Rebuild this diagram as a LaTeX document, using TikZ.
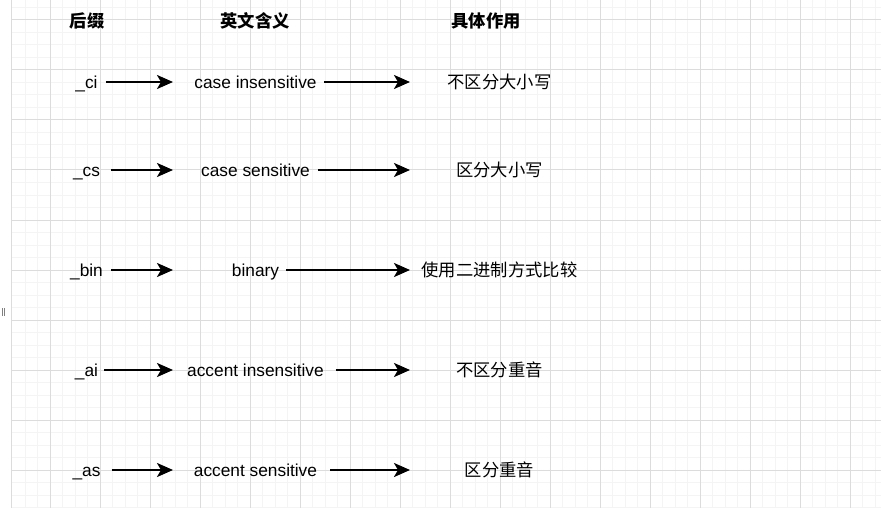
\documentclass[tikz,border=0pt]{standalone}
\usepackage{fontspec}
\setmainfont{Liberation Sans}
\newfontfamily\cjk{Noto Sans CJK SC}
\usetikzlibrary{arrows.meta}
\definecolor{gridmajor}{HTML}{DCDCDC}
\definecolor{gridminor}{HTML}{F4F4F4}

\begin{document}
\begin{tikzpicture}
  [x=1pt, y=-1pt,
   label/.style={inner sep=0, text height=13pt, text depth=0pt, font=\fontsize{17.3}{20}\selectfont},
   head/.style={label, font=\fontsize{17.3}{20}\selectfont\cjk\bfseries},
   meaning/.style={label, font=\fontsize{17.3}{20}\selectfont\cjk},
   link/.style={line width=2.2pt, -{Stealth[length=16pt, width=14pt, inset=4pt]}},
   minor/.style={gridminor, line width=1pt},
   major/.style={gridmajor, line width=1pt}]

  \useasboundingbox (0,0) rectangle (881,508);
  \fill[white] (0,0) rectangle (881,508);

  % grid
  \foreach \x in {25,37.5,...,875} \draw[minor] (\x,0) -- (\x,508);
  \foreach \y in {7.5,20,...,507.5} \draw[minor] (11,\y) -- (881,\y);
  \foreach \x in {50,100,...,850} \draw[major] (\x,0) -- (\x,508);
  \foreach \y in {20,70,...,470} \draw[major] (11,\y) -- (881,\y);
  \draw[major] (11,0) -- (11,508);
  \draw[gray, line width=0.8pt] (2,308) -- (2,316) (4.5,308) -- (4.5,316);

  \node[head] (hs) at (87,21) {后缀};
  \node[head] (he) at (255,21) {英文含义};
  \node[head] (hm) at (486,21) {具体作用};

  \foreach \i/\y/\suf/\eng/\zh/\ga/\gb in
    {1/82/\_ci/case insensitive/不区分大小写/8/7,
     2/170/\_cs/case sensitive/区分大小写/11/8,
     3/270/\_bin/binary/使用二进制方式比较/8/7,
     4/370/\_ai/accent insensitive/不区分重音/6/12,
     5/470/\_as/accent sensitive/区分重音/11/13} {
    \node[label] (s\i) at (86.5,\y) {\suf};
    \node[label] (e\i) at (255.5,\y) {\eng};
    \node[meaning] (m\i) at (499.5,\y) {\zh};
    \coordinate (p\i) at (173,\y);
    \coordinate (q\i) at (410,\y);
    \draw[link, shorten <=\ga pt] (s\i) -- (p\i);
    \draw[link, shorten <=\gb pt] (e\i) -- (q\i);
  }
\end{tikzpicture}
\end{document}
